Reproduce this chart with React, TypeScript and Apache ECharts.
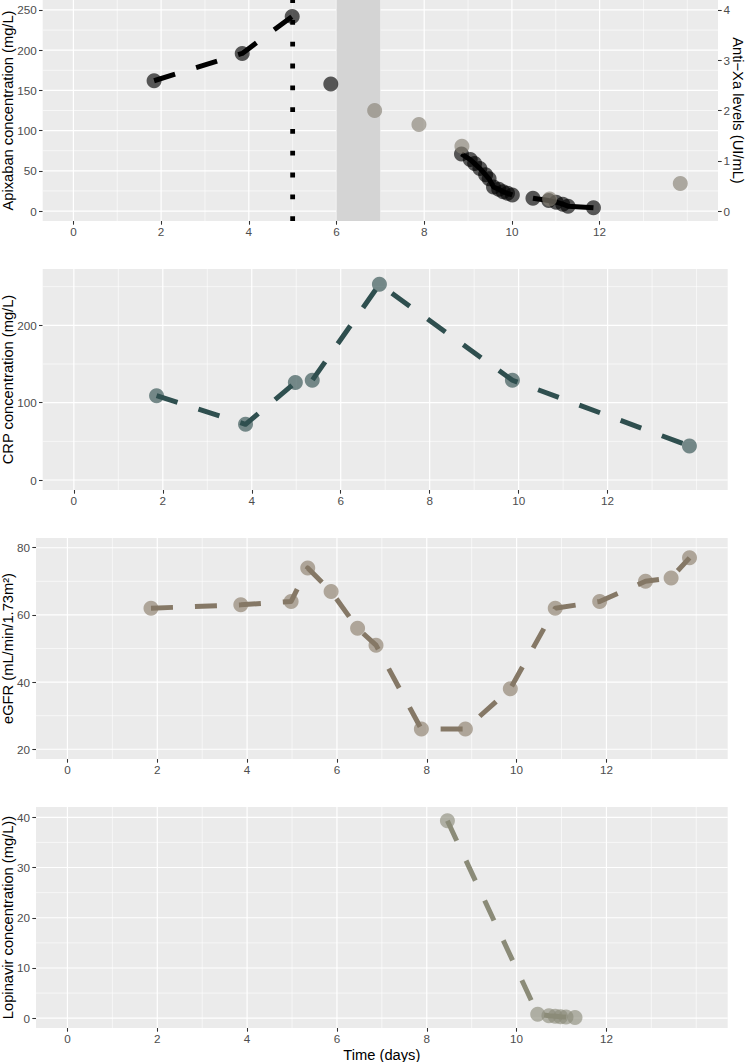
import { useEffect, useRef } from "react";
import * as echarts from "echarts";

const FONT = "'Liberation Sans', Arial, Helvetica, sans-serif";

// ---- shared time axis ----
const dayTicks = [0, 2, 4, 6, 8, 10, 12];
const dayMinorGrid = [1, 3, 5, 7, 9, 11, 13, 14];
const dayRange = [-0.7, 14.7];

// ---- panel 1: apixaban (left) and anti-Xa (right) ----
const apixabanTicks = [0, 50, 100, 150, 200, 250];
const apixabanMinor = [25, 75, 125, 175, 225];
const apixabanRange = [-12.4, 262.4];
const antiXaTicks = [0, 1, 2, 3, 4];
const antiXaToApixaban = 62.5; // 4 UI/mL sits on 250 mg/L

const apixabanEarlyDays = [1.84, 3.85, 4.99];
const apixabanEarlyValues = [162, 196, 242];
const apixabanLoneDays = [5.87];
const apixabanLoneValues = [158];
const apixabanCycle1Days = [8.85, 9.05, 9.15, 9.27, 9.4, 9.48, 9.58, 9.7, 9.8, 9.9, 10.01];
const apixabanCycle1Values = [71, 64, 59, 53, 45, 40, 30, 27, 24, 22, 20];
const apixabanCycle2Days = [10.48, 10.84, 11.01, 11.16, 11.28, 11.86];
const apixabanCycle2Values = [16, 13, 11, 8.5, 6, 4];

const antiXaDays = [6.87, 7.88, 8.86, 10.86, 13.84];
const antiXaValues = [2.0, 1.72, 1.29, 0.24, 0.55];

const shadedDays = [6, 7];
const switchDay = 5;

// ---- panel 2: CRP ----
const crpTicks = [0, 100, 200];
const crpMinor = [50, 150, 250];
const crpRange = [-12.9, 272.8];
const crpDays = [1.86, 3.86, 4.98, 5.36, 6.87, 9.86, 13.84];
const crpValues = [109, 72, 126, 129, 253, 129, 44];

// ---- panel 3: eGFR ----
const egfrTicks = [20, 40, 60, 80];
const egfrMinor = [30, 50, 70];
const egfrRange = [17.1, 82.9];
const egfrDays = [1.86, 3.86, 4.98, 5.35, 5.87, 6.46, 6.87, 7.88, 8.86, 9.86, 10.86, 11.85, 12.87, 13.44, 13.85];
const egfrValues = [62, 63, 64, 74, 67, 56, 51, 26, 26, 38, 62, 64, 70, 71, 77];

// ---- panel 4: lopinavir ----
const lopiTicks = [0, 10, 20, 30, 40];
const lopiMinor = [5, 15, 25, 35];
const lopiRange = [-1.95, 42.05];
const lopiDays = [8.46, 10.47, 10.72, 10.86, 10.98, 11.1, 11.3];
const lopiValues = [39.3, 0.8, 0.5, 0.4, 0.3, 0.25, 0.15];

const panels = [
  { left: 42.7, top: 0, width: 675.3, height: 221 },
  { left: 42.7, top: 269, width: 685, height: 221 },
  { left: 36, top: 538, width: 691.7, height: 221 },
  { left: 36, top: 807, width: 691.7, height: 221 },
];

const AXIS_TEXT = "#4D4D4D";
const TICK = "#333333";

const zip = (xs: number[], ys: number[]) => xs.map((x, i) => [x, ys[i]]);

function xAxisFor(gridIndex: number, withName: boolean) {
  const a: any = {
    type: "value",
    gridIndex,
    min: dayRange[0],
    max: dayRange[1],
    axisLine: { show: false, onZero: false },
    axisTick: { show: true, length: 3.7, lineStyle: { color: TICK, width: 1.07 }, customValues: dayTicks },
    axisLabel: { show: true, customValues: dayTicks, color: AXIS_TEXT, fontSize: 11.7, fontFamily: FONT, margin: 4 },
    splitLine: { show: false },
    minorTick: { show: false },
    minorSplitLine: { show: false },
  };
  if (withName) {
    a.name = "Time (days)";
    a.nameLocation = "middle";
    a.nameGap = 26.5;
    a.nameMoveOverlap = false;
    a.nameTextStyle = { color: "#000", fontSize: 14.7, fontFamily: FONT, align: "center", verticalAlign: "middle" };
  }
  return a;
}

function yAxisFor(
  gridIndex: number,
  range: number[],
  ticks: number[],
  name: string,
  nameGap: number,
  position: "left" | "right" = "left",
  nameRotate = 90,
  labelMargin = 6
) {
  return {
    type: "value",
    gridIndex,
    position,
    min: range[0],
    max: range[1],
    axisLine: { show: false, onZero: false },
    axisTick: { show: true, length: 3.7, lineStyle: { color: TICK, width: 1.07 }, customValues: ticks },
    axisLabel: { show: true, customValues: ticks, color: AXIS_TEXT, fontSize: 11.7, fontFamily: FONT, margin: labelMargin },
    splitLine: { show: false },
    minorTick: { show: false },
    minorSplitLine: { show: false },
    name,
    nameLocation: "middle",
    nameGap,
    nameRotate,
    nameMoveOverlap: false,
    nameTextStyle: { color: "#000", fontSize: 14.7, fontFamily: FONT, align: "center", verticalAlign: "middle" },
  };
}

function gridLineSeries(xi: number, yi: number, yRange: number[], yMajor: number[], yMinor: number[]) {
  const build = (xs: number[], ys: number[]) => {
    const d: any[] = [];
    xs.forEach((x) => {
      d.push([x, yRange[0]], [x, yRange[1]], [x, null]);
    });
    ys.forEach((y) => {
      d.push([dayRange[0], y], [dayRange[1], y], [dayRange[1], null]);
    });
    return d;
  };
  const base = {
    type: "line",
    xAxisIndex: xi,
    yAxisIndex: yi,
    symbol: "none",
    showSymbol: false,
    silent: true,
    connectNulls: false,
    z: 0.5,
    emphasis: { disabled: true },
  };
  return [
    { ...base, data: build(dayMinorGrid, yMinor), lineStyle: { color: "#FFFFFF", width: 0.6 } },
    { ...base, data: build(dayTicks, yMajor), lineStyle: { color: "#FFFFFF", width: 1.2 } },
  ];
}

function pointSeries(xi: number, yi: number, data: number[][], color: string, z = 2, extra: any = {}) {
  return {
    type: "scatter",
    xAxisIndex: xi,
    yAxisIndex: yi,
    data,
    symbol: "circle",
    symbolSize: 15,
    itemStyle: { color, borderWidth: 0 },
    silent: true,
    z,
    emphasis: { disabled: true },
    ...extra,
  };
}

function pathSeries(xi: number, yi: number, data: number[][], color: string, dashed: boolean, z = 3) {
  return {
    type: "line",
    xAxisIndex: xi,
    yAxisIndex: yi,
    data,
    symbol: "none",
    showSymbol: false,
    silent: true,
    z,
    lineStyle: { color, width: 5, type: dashed ? [22, 22] : "solid", cap: "butt", join: "round" },
    emphasis: { disabled: true },
  };
}

function buildOption() {
  const series: any[] = [];

  // panel 1
  series.push(...gridLineSeries(0, 0, apixabanRange, apixabanTicks, apixabanMinor));
  series.push(
    pointSeries(
      0,
      0,
      [
        ...zip(apixabanEarlyDays, apixabanEarlyValues),
        ...zip(apixabanLoneDays, apixabanLoneValues),
        ...zip(apixabanCycle1Days, apixabanCycle1Values),
        ...zip(apixabanCycle2Days, apixabanCycle2Values),
      ],
      "rgba(0,0,0,0.8)",
      2,
      {
        markArea: {
          silent: true,
          itemStyle: { color: "#D4D4D4", borderWidth: 0 },
          label: { show: false },
          data: [[{ xAxis: shadedDays[0] }, { xAxis: shadedDays[1] }]],
        },
      }
    )
  );
  series.push({
    type: "line",
    xAxisIndex: 0,
    yAxisIndex: 0,
    data: [
      [switchDay, apixabanRange[0]],
      [switchDay, apixabanRange[1]],
    ],
    symbol: "none",
    showSymbol: false,
    silent: true,
    z: 1.5,
    lineStyle: { color: "#000", width: 4.8, type: [4.8, 17], cap: "butt" },
    emphasis: { disabled: true },
  });
  series.push(pathSeries(0, 0, zip(apixabanEarlyDays, apixabanEarlyValues), "#000", true));
  series.push(pathSeries(0, 0, zip(apixabanCycle1Days, apixabanCycle1Values), "#000", false));
  series.push(pathSeries(0, 0, zip(apixabanCycle2Days, apixabanCycle2Values), "#000", false));
  series.push(pointSeries(0, 1, zip(antiXaDays, antiXaValues), "rgba(135,128,115,0.8)", 4));

  // panel 2
  series.push(...gridLineSeries(1, 2, crpRange, crpTicks, crpMinor));
  series.push(pointSeries(1, 2, zip(crpDays, crpValues), "rgba(47,79,79,0.8)"));
  series.push(pathSeries(1, 2, zip(crpDays, crpValues), "#2F4F4F", true));

  // panel 3
  series.push(...gridLineSeries(2, 3, egfrRange, egfrTicks, egfrMinor));
  series.push(pointSeries(2, 3, zip(egfrDays, egfrValues), "rgba(139,125,107,0.8)"));
  series.push(pathSeries(2, 3, zip(egfrDays, egfrValues), "#857866", true));

  // panel 4
  series.push(...gridLineSeries(3, 4, lopiRange, lopiTicks, lopiMinor));
  series.push(pointSeries(3, 4, zip(lopiDays, lopiValues), "rgba(139,139,122,0.8)"));
  series.push(pathSeries(3, 4, zip(lopiDays, lopiValues), "#8B8B78", true));

  return {
    animation: false,
    backgroundColor: "#FFFFFF",
    textStyle: { fontFamily: FONT },
    tooltip: { show: false },
    grid: panels.map((p) => ({
      ...p,
      show: true,
      backgroundColor: "#EBEBEB",
      borderWidth: 0,
      containLabel: false,
      outerBoundsMode: "none",
    })),
    xAxis: [xAxisFor(0, false), xAxisFor(1, false), xAxisFor(2, false), xAxisFor(3, true)],
    yAxis: [
      yAxisFor(0, apixabanRange, apixabanTicks, "Apixaban concentration (mg/L)", 35.2),
      yAxisFor(
        0,
        apixabanRange.map((v) => v / antiXaToApixaban),
        antiXaTicks,
        "Anti\u2212Xa levels (UI/mL)",
        19.6,
        "right",
        -90,
        5.5
      ),
      yAxisFor(1, crpRange, crpTicks, "CRP concentration (mg/L)", 35.2),
      yAxisFor(2, egfrRange, egfrTicks, "eGFR (mL/min/1.73m\u00B2)", 28.5),
      yAxisFor(3, lopiRange, lopiTicks, "Lopinavir concentration (mg/L))", 28.5),
    ],
    series,
  };
}

export default function App() {
  const ref = useRef<HTMLDivElement>(null);
  useEffect(() => {
    if (!ref.current) return;
    const chart = echarts.init(ref.current, undefined, { renderer: "svg" });
    chart.setOption(buildOption() as any);
    return () => chart.dispose();
  }, []);
  return (
    <div
      ref={ref}
      style={{ position: "absolute", left: 0, top: 0, width: 745, height: 1062, background: "#FFFFFF" }}
    />
  );
}
